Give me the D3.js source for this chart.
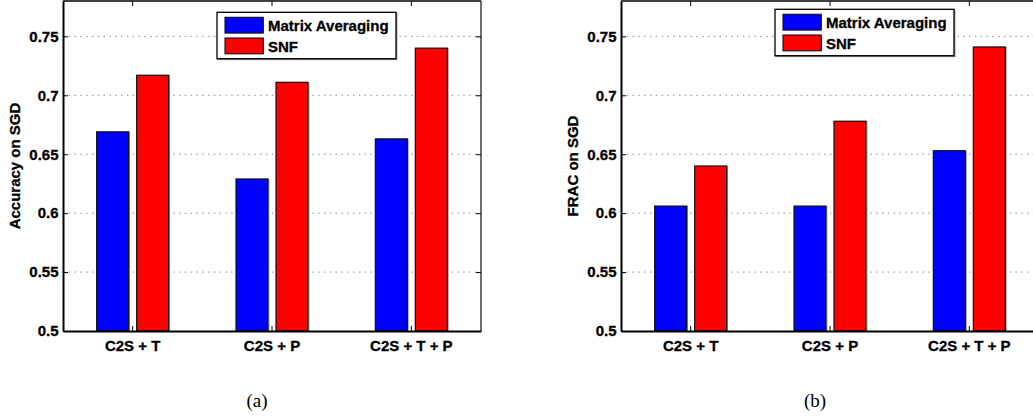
<!DOCTYPE html>
<html>
<head>
<meta charset="utf-8">
<script src="https://cdn.jsdelivr.net/npm/d3@7"></script>
<style>
  html, body { margin: 0; padding: 0; background: #fff; }
  svg { display: block; }
  text { font-family: "Liberation Sans", Arial, Helvetica, sans-serif; font-weight: bold; fill: #000; stroke: #000; stroke-width: 0.3px; }
  .cap { font-family: "Liberation Serif", "Times New Roman", serif; font-weight: normal; stroke: none; }
</style>
</head>
<body>
<svg id="chart" width="1033" height="419"></svg>
<script>
// ---- data ----
const categories = ["C2S + T", "C2S + P", "C2S + T + P"];
const seriesNames = ["Matrix Averaging", "SNF"];
const accuracyMatrixAvg = [0.669, 0.629, 0.663];
const accuracySNF = [0.717, 0.711, 0.740];
const fracMatrixAvg = [0.606, 0.606, 0.653];
const fracSNF = [0.640, 0.678, 0.741];
const yTicks = [0.5, 0.55, 0.6, 0.65, 0.7, 0.75];
const yTickLabels = ["0.5", "0.55", "0.6", "0.65", "0.7", "0.75"];
const yDomain = [0.5, 0.78];
const colors = ["#0000ff", "#ff0000"];

const svg = d3.select("#chart");

function drawPanel(opts) {
  const L = opts.left, W = 418, T = 1, B = 331;
  const g = svg.append("g");
  const y = d3.scaleLinear().domain(yDomain).range([B, T]);
  const x0 = d3.scaleBand().domain(categories).range([L, L + W]).padding(0);
  const half = x0.bandwidth() / 2;
  const x1 = d3.scaleBand().domain(seriesNames).range([half - 36, half + 36]).paddingInner(0.2);

  // grid
  g.append("g").selectAll("line").data(yTicks.filter(d => d > yDomain[0]))
    .join("line")
    .attr("x1", L).attr("x2", L + W)
    .attr("y1", d => y(d)).attr("y2", d => y(d))
    .attr("stroke", "#8a8a8a").attr("stroke-width", 1)
    .attr("stroke-dasharray", "1.5,4.3");

  // bars
  const data = categories.map((c, i) => ({ c, vals: [opts.a[i], opts.b[i]] }));
  const grp = g.append("g").selectAll("g").data(data).join("g")
    .attr("transform", d => `translate(${x0(d.c)},0)`);
  const bars = grp.selectAll("g").data(d => d.vals.map((v, j) => ({ v, s: seriesNames[j], j })))
    .join("g");
  bars.append("rect")
    .attr("x", d => x1(d.s) + 0.8)
    .attr("width", x1.bandwidth())
    .attr("y", d => y(d.v) + 0.8)
    .attr("height", d => B - y(d.v) - 0.8)
    .attr("fill", "none")
    .attr("stroke", "#999").attr("stroke-width", 1.2);
  bars.append("rect")
    .attr("x", d => x1(d.s))
    .attr("width", x1.bandwidth())
    .attr("y", d => y(d.v))
    .attr("height", d => B - y(d.v))
    .attr("fill", d => colors[d.j])
    .attr("stroke", "#111").attr("stroke-width", 1.2);

  // box
  g.append("line").attr("x1", L).attr("x2", L + W).attr("y1", T).attr("y2", T)
    .attr("stroke", "#000").attr("stroke-width", 1.3);
  g.append("line").attr("x1", L + W).attr("x2", L + W).attr("y1", T).attr("y2", B)
    .attr("stroke", "#222").attr("stroke-width", 1.3);

  // x axis (bottom) and top ticks
  const xAxis = d3.axisBottom(x0).tickSizeInner(-5).tickSizeOuter(0).tickPadding(12);
  const gx = g.append("g").attr("transform", `translate(0,${B})`).call(xAxis);
  gx.select(".domain").attr("stroke", "#000").attr("stroke-width", 2);
  gx.selectAll(".tick line").attr("stroke", "#000");
  gx.selectAll(".tick text").attr("font-size", 15).attr("font-family", null)
    .attr("dy", "0.71em").attr("y", 9);
  const xTop = d3.axisTop(x0).tickSizeInner(-5).tickSizeOuter(0).tickFormat("");
  const gt = g.append("g").attr("transform", `translate(0,${T})`).call(xTop);
  gt.select(".domain").remove();
  gt.selectAll(".tick line").attr("stroke", "#000");

  // y axis
  const yAxis = d3.axisLeft(y).tickValues(yTicks).tickFormat((d, i) => yTickLabels[i])
    .tickSizeInner(-5).tickSizeOuter(0).tickPadding(5);
  const gy = g.append("g").attr("transform", `translate(${L},0)`).call(yAxis);
  gy.select(".domain").attr("stroke", "#000").attr("stroke-width", 2);
  gy.selectAll(".tick line").attr("stroke", "#000");
  gy.selectAll(".tick text").attr("font-size", 15).attr("font-family", null).attr("x", -4.5);
  const yRight = d3.axisRight(y).tickValues(yTicks).tickFormat("").tickSizeInner(-5).tickSizeOuter(0);
  const gr = g.append("g").attr("transform", `translate(${L + W},0)`).call(yRight);
  gr.select(".domain").remove();
  gr.selectAll(".tick line").attr("stroke", "#000");

  // y label
  g.append("text")
    .attr("transform", `translate(${L - 43},${(T + B) / 2}) rotate(-90)`)
    .attr("text-anchor", "middle")
    .attr("font-size", 15)
    .text(opts.ylabel);

  // legend
  const lx = L + 154, ly = opts.legendTop;
  const lg = g.append("g").attr("transform", `translate(${lx},${ly})`);
  lg.append("rect").attr("x", 0.8).attr("y", 0.8).attr("width", 179).attr("height", 46.4)
    .attr("fill", "none").attr("stroke", "#888").attr("stroke-width", 1.2);
  lg.append("rect").attr("x", 0).attr("y", 0).attr("width", 179).attr("height", 46.4)
    .attr("fill", "#fff").attr("stroke", "#000").attr("stroke-width", 1.3);
  seriesNames.forEach((s, j) => {
    lg.append("rect").attr("x", 8).attr("y", 5 + j * 20.7).attr("width", 38.3).attr("height", 15.8)
      .attr("fill", colors[j]).attr("stroke", "#111").attr("stroke-width", 1.1);
    lg.append("text").attr("x", 51).attr("y", 19.2 + j * 20.5).attr("font-size", 15).text(s);
  });

  // caption
  g.append("text").attr("class", "cap")
    .attr("x", L + W / 2 - 15).attr("y", 407)
    .attr("text-anchor", "middle").attr("font-size", 19)
    .text(opts.caption);
}

drawPanel({ left: 63, a: accuracyMatrixAvg, b: accuracySNF, ylabel: "Accuracy on SGD", legendTop: 12.3, caption: "(a)" });
drawPanel({ left: 621, a: fracMatrixAvg, b: fracSNF, ylabel: "FRAC on SGD", legendTop: 9.3, caption: "(b)" });
</script>
</body>
</html>
